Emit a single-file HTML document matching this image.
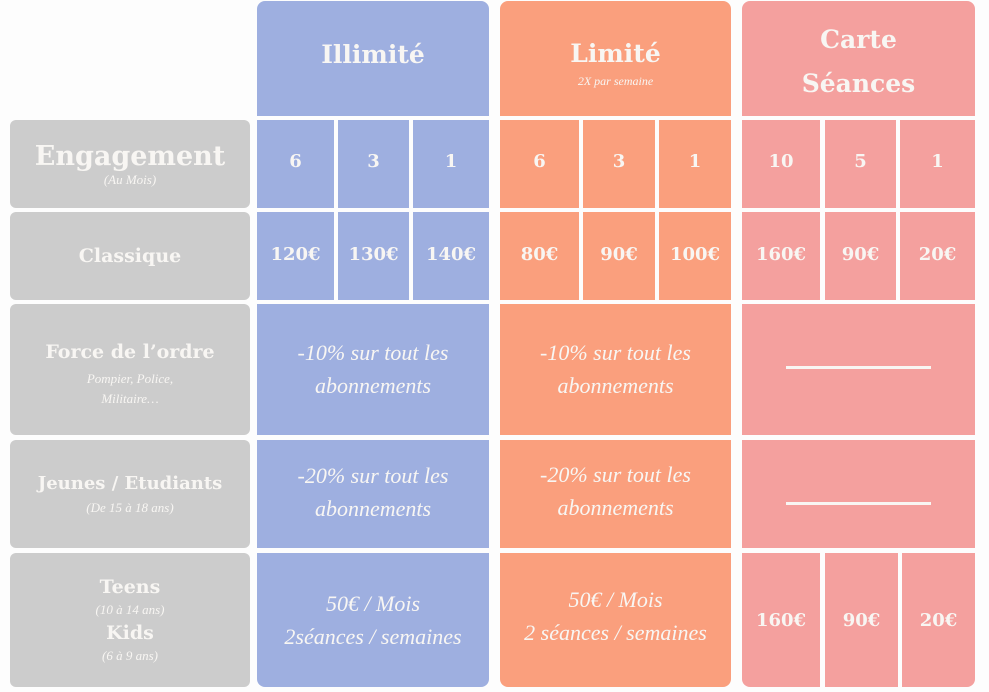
<!DOCTYPE html>
<html><head><meta charset="utf-8"><style>
body{margin:0;width:989px;height:692px;background:#fdfdfd;position:relative;overflow:hidden;font-family:"Liberation Serif",serif;color:#f8f6f3}
.c{position:absolute;display:flex;flex-direction:column;align-items:center;justify-content:center;text-align:center}
.g{background:#cccccc;border-radius:6px}
.b{background:#9eafe0}.o{background:#fa9f7d}.p{background:#f4a09e}
.h{font-family:"DejaVu Serif",serif;font-weight:bold;font-size:25px}
.n{font-family:"DejaVu Serif",serif;font-weight:bold;font-size:18px}
.s{font-size:13px;font-style:italic}
.t{font-size:22px;font-style:italic;line-height:33px}
.line{width:145px;height:3px;background:#f8f6f3}
</style></head><body>
<div class="c b" style="left:257px;top:1px;width:232px;height:115px;border-radius:8px 8px 0 0"><div class="h" style="margin-bottom:8px">Illimité</div></div>
<div class="c o" style="left:500px;top:1px;width:231px;height:115px;border-radius:8px 8px 0 0"><div class="h" style="margin-top:10px">Limité</div><div class="s" style="font-size:12px;margin-top:6px">2X par semaine</div></div>
<div class="c p" style="left:742px;top:1px;width:233px;height:115px;border-radius:8px 8px 0 0"><div class="h" style="line-height:44px;margin-top:6px">Carte<br>Séances</div></div>

<div class="c g" style="left:10px;top:120px;width:240px;height:88px"><div class="h" style="font-size:27px">Engagement</div><div class="s">(Au Mois)</div></div>
<div class="c g" style="left:10px;top:212px;width:240px;height:88px"><div class="n" style="font-size:19px">Classique</div></div>
<div class="c g" style="left:10px;top:304px;width:240px;height:131px"><div class="n" style="font-size:19px;margin-top:10px">Force de l’ordre</div><div class="s" style="margin-top:6px;line-height:20px">Pompier, Police,<br>Militaire…</div></div>
<div class="c g" style="left:10px;top:440px;width:240px;height:108px"><div class="n" style="font-size:18px">Jeunes / Etudiants</div><div class="s" style="margin-top:6px">(De 15 à 18 ans)</div></div>
<div class="c g" style="left:10px;top:553px;width:240px;height:134px"><div class="n" style="font-size:19px">Teens</div><div class="s" style="margin:4px 0">(10 à 14 ans)</div><div class="n" style="font-size:19px">Kids</div><div class="s" style="margin-top:4px">(6 à 9 ans)</div></div>

<!-- row1 -->
<div class="c b n" style="left:257px;top:120px;width:77px;height:88px"><span style="margin-top:-6px">6</span></div>
<div class="c b n" style="left:338px;top:120px;width:71px;height:88px"><span style="margin-top:-6px">3</span></div>
<div class="c b n" style="left:413px;top:120px;width:76px;height:88px"><span style="margin-top:-6px">1</span></div>
<div class="c o n" style="left:500px;top:120px;width:79px;height:88px"><span style="margin-top:-6px">6</span></div>
<div class="c o n" style="left:583px;top:120px;width:72px;height:88px"><span style="margin-top:-6px">3</span></div>
<div class="c o n" style="left:659px;top:120px;width:72px;height:88px"><span style="margin-top:-6px">1</span></div>
<div class="c p n" style="left:742px;top:120px;width:78px;height:88px"><span style="margin-top:-6px">10</span></div>
<div class="c p n" style="left:825px;top:120px;width:71px;height:88px"><span style="margin-top:-6px">5</span></div>
<div class="c p n" style="left:900px;top:120px;width:75px;height:88px"><span style="margin-top:-6px">1</span></div>
<!-- row2 -->
<div class="c b n" style="left:257px;top:212px;width:77px;height:88px"><span style="margin-top:-4px">120€</span></div>
<div class="c b n" style="left:338px;top:212px;width:71px;height:88px"><span style="margin-top:-4px">130€</span></div>
<div class="c b n" style="left:413px;top:212px;width:76px;height:88px"><span style="margin-top:-4px">140€</span></div>
<div class="c o n" style="left:500px;top:212px;width:79px;height:88px"><span style="margin-top:-4px">80€</span></div>
<div class="c o n" style="left:583px;top:212px;width:72px;height:88px"><span style="margin-top:-4px">90€</span></div>
<div class="c o n" style="left:659px;top:212px;width:72px;height:88px"><span style="margin-top:-4px">100€</span></div>
<div class="c p n" style="left:742px;top:212px;width:78px;height:88px"><span style="margin-top:-4px">160€</span></div>
<div class="c p n" style="left:825px;top:212px;width:71px;height:88px"><span style="margin-top:-4px">90€</span></div>
<div class="c p n" style="left:900px;top:212px;width:75px;height:88px"><span style="margin-top:-4px">20€</span></div>
<!-- row3 -->
<div class="c b t" style="left:257px;top:304px;width:232px;height:131px"><span style="margin-top:-1px">-10% sur tout les<br>abonnements</span></div>
<div class="c o t" style="left:500px;top:304px;width:231px;height:131px"><span style="margin-top:-1px">-10% sur tout les<br>abonnements</span></div>
<div class="c p" style="left:742px;top:304px;width:233px;height:131px"><div class="line" style="margin-top:-4px"></div></div>
<!-- row4 -->
<div class="c b t" style="left:257px;top:440px;width:232px;height:108px"><span style="margin-top:-4px">-20% sur tout les<br>abonnements</span></div>
<div class="c o t" style="left:500px;top:440px;width:231px;height:108px"><span style="margin-top:-6px">-20% sur tout les<br>abonnements</span></div>
<div class="c p" style="left:742px;top:440px;width:233px;height:108px"><div class="line" style="margin-top:18px"></div></div>
<!-- row5 -->
<div class="c b t" style="left:257px;top:553px;width:232px;height:134px;border-radius:0 0 8px 8px"><span>50€ / Mois<br>2séances / semaines</span></div>
<div class="c o t" style="left:500px;top:553px;width:231px;height:134px;border-radius:0 0 8px 8px"><span style="margin-top:-8px">50€ / Mois<br>2 séances / semaines</span></div>
<div class="c p n" style="left:742px;top:553px;width:78px;height:134px;border-radius:0 0 0 8px">160€</div>
<div class="c p n" style="left:825px;top:553px;width:73px;height:134px">90€</div>
<div class="c p n" style="left:902px;top:553px;width:73px;height:134px;border-radius:0 0 8px 0">20€</div>
</body></html>
